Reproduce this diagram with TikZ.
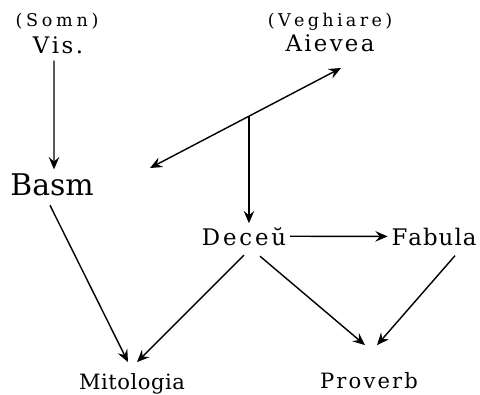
\documentclass[tikz,border=0pt]{standalone}
\usepackage{fontspec}
\setmainfont{DejaVu Serif}
\usetikzlibrary{arrows.meta}
% litere rarite
\makeatletter
\def\rar#1#2{\def\rar@k{\kern#1}\rar@first#2\@nil}
\def\rar@first#1{#1\rar@next}
\def\rar@next#1{\ifx#1\@nil\else\rar@k#1\expandafter\rar@next\fi}
\makeatother
\tikzset{
    word/.style={font=\fontsize{13}{16}\selectfont, inner sep=2pt, anchor=base},
    lowword/.style={font=\fontsize{12}{15}\selectfont, inner sep=2pt, anchor=base},
    bigword/.style={font=\fontsize{17}{21}\selectfont, inner sep=2pt, anchor=base},
    note/.style={font=\fontsize{10}{12}\selectfont, inner sep=1pt, anchor=base},
    arr/.style={thick, -{Stealth[length=7pt,width=6pt,inset=2.5pt]}},
    arrboth/.style={thick, {Stealth[length=7pt,width=6pt,inset=2.5pt]}-{Stealth[length=7pt,width=6pt,inset=2.5pt]}}
}
\begin{document}
\begin{tikzpicture}[x=0.02cm, y=-0.02cm]
    \useasboundingbox (0,0) rectangle (480,395);

    % somn si veghiare
    \node[note] (somn) at (57,27) {\rar{2.1pt}{(Somn)}};
    \node[word] (vis) at (58,54) {\rar{1.4pt}{Vis.}};
    \node[note] (veghiare) at (330,27) {\rar{1.9pt}{(Veghiare)}};
    \node[word] (aievea) at (330,52) {\rar{1.3pt}{Aievea}};

    % nivelul de mijloc
    \node[bigword] (basm) at (52,195) {Basm};
    \node[word] (deceu) at (244,245) {\rar{1.6pt}{Deceŭ}};
    \node[word] (fabula) at (434,245) {\rar{0.6pt}{Fabula}};

    % jos
    \node[lowword] (mitologia) at (132,389) {\rar{0.3pt}{Mitologia}};
    \node[lowword] (proverb) at (369,388) {\rar{1.2pt}{Proverb}};

    % sageti
    \draw[arr] ([xshift=-0.08cm,yshift=-0.05cm]vis.south) -- ([xshift=0.04cm]basm.north);
    \coordinate (basmtip) at (150,168);
    \coordinate (aieveatip) at (341,68);
    \draw[arrboth] (basmtip) -- (aieveatip) coordinate[pos=0.518] (fork);
    \draw[arr] (fork) -- (fork |- deceu.north);
    \draw[arr] (deceu) -- (fabula);
    \draw[arr] ([xshift=-0.04cm,yshift=-0.12cm]basm.south) -- ([xshift=-0.08cm,yshift=0.14cm]mitologia.north);
    \draw[arr] ([yshift=-0.12cm]deceu.south) -- ([xshift=0.1cm,yshift=0.14cm]mitologia.north);
    \draw[arr] ([xshift=0.32cm,yshift=-0.14cm]deceu.south) -- ([xshift=-0.08cm,yshift=0.46cm]proverb.north);
    \draw[arr] ([xshift=0.42cm,yshift=-0.13cm]fabula.south) -- ([xshift=0.16cm,yshift=0.46cm]proverb.north);
\end{tikzpicture}
\end{document}
